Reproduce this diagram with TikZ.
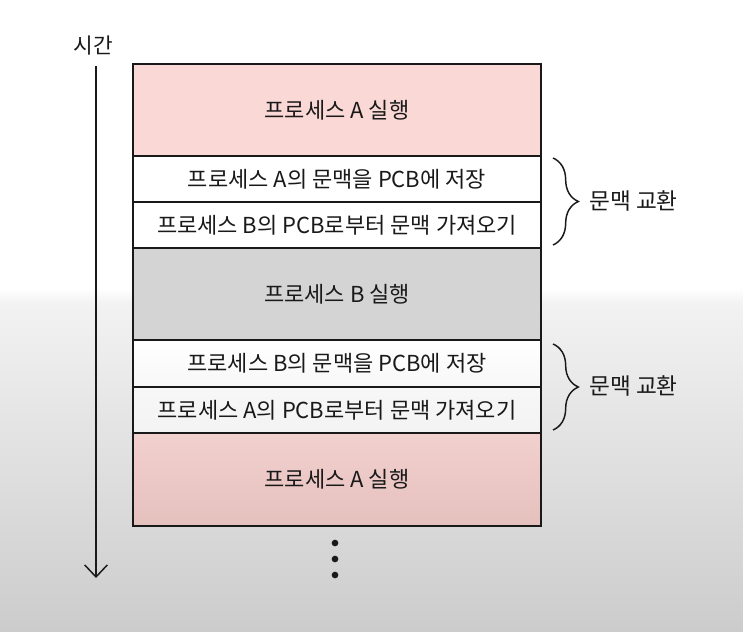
\documentclass[tikz,border=0pt]{standalone}
\usepackage{fontspec}
\setmainfont{Noto Sans CJK KR}
\usetikzlibrary{arrows.meta,decorations.pathreplacing}
\definecolor{pinkA}{RGB}{249,216,213}
\definecolor{pinkT}{RGB}{242,208,205}
\definecolor{pinkB}{RGB}{229,193,190}
\definecolor{grayB}{RGB}{212,212,212}
\definecolor{ink}{RGB}{25,25,25}
\definecolor{wB}{RGB}{243,243,243}
\pgfdeclareverticalshading{bgshade}{100bp}{color(0bp)=(black!20!white); color(25bp)=(black!20!white); color(51bp)=(black!5!white); color(52.2bp)=(white); color(100bp)=(white)}
\tikzset{
  rowbox/.style={draw=ink, line width=1.2pt, minimum width=306pt, inner sep=0pt, font=\fontsize{16.5pt}{19pt}\selectfont, text=ink},
  lbl/.style={font=\fontsize{16.5pt}{19pt}\selectfont, text=ink, inner sep=0pt},
  brc/.style={draw=ink, line width=1.1pt, decorate, decoration={brace, amplitude=19pt, aspect=0.5}},
  dotmark/.style={circle, fill=ink, inner sep=0pt, minimum size=5pt}
}
\begin{document}
\begin{tikzpicture}[x=0.75pt, y=-0.75pt]
\useasboundingbox (0,0) rectangle (743,632);
\shade[shading=bgshade] (0,0) rectangle (743,632);
% rows
\node[rowbox, fill=pinkA, minimum height=69pt] (r1) at (337,110) {프로세스 A 실행};
\node[rowbox, fill=white, minimum height=34.5pt] (r2) at (337,179) {프로세스 A의 문맥을 PCB에 저장};
\node[rowbox, fill=white, minimum height=34.5pt] (r3) at (337,225) {프로세스 B의 PCB로부터 문맥 가져오기};
\node[rowbox, fill=grayB, minimum height=69pt] (r4) at (337,294) {프로세스 B 실행};
\node[rowbox, top color=white, bottom color=black!3!white, minimum height=35pt] (r5) at (337,363.5) {프로세스 B의 문맥을 PCB에 저장};
\node[rowbox, top color=black!3!white, bottom color=wB, minimum height=34.5pt] (r6) at (337,410) {프로세스 A의 PCB로부터 문맥 가져오기};
\node[rowbox, top color=pinkT, bottom color=pinkB, minimum height=69.75pt] (r7) at (337,479.5) {프로세스 A 실행};
% time axis
\node[lbl, font=\fontsize{16pt}{19pt}\selectfont] (tl) at (93,46) {시간};
\coordinate (ts) at (96,66);
\coordinate (te) at (96,578);
\draw[ink, line width=1.2pt, -{Straight Barb[length=9pt, width=17pt, line width=1.1pt]}] (ts) -- (te);
% braces
\coordinate (b1s) at (553,158);
\coordinate (b1e) at (553,245);
\coordinate (b2s) at (553,344);
\coordinate (b2e) at (553,430);
\draw[brc] (b1s) -- (b1e);
\draw[brc] (b2s) -- (b2e);
\node[lbl, anchor=west, font=\fontsize{17pt}{20pt}\selectfont] (c1) at (589,201) {문맥 교환};
\node[lbl, anchor=west, font=\fontsize{17pt}{20pt}\selectfont] (c2) at (589,386) {문맥 교환};
% dots
\node[dotmark] (d1) at (335,543) {};
\node[dotmark] (d2) at (335,559) {};
\node[dotmark] (d3) at (335,575) {};
\end{tikzpicture}
\end{document}
